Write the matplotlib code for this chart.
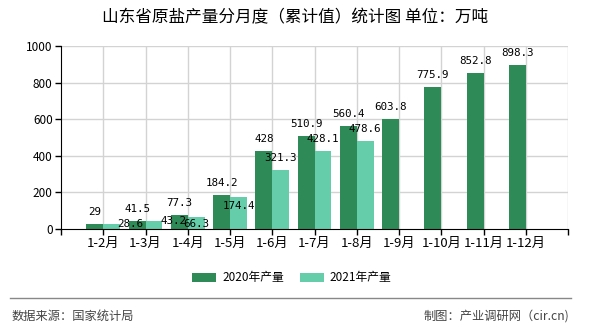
import matplotlib
matplotlib.use("Agg")
import matplotlib.pyplot as plt
from matplotlib.patches import Patch
from matplotlib.lines import Line2D
import numpy as np

plt.rcParams['font.family'] = ['Noto Sans CJK SC', 'DejaVu Sans']

categories = ["1-2月", "1-3月", "1-4月", "1-5月", "1-6月", "1-7月", "1-8月",
              "1-9月", "1-10月", "1-11月", "1-12月"]
values_2020 = [29, 41.5, 77.3, 184.2, 428, 510.9, 560.4, 603.8, 775.9, 852.8, 898.3]
values_2021 = [28.6, 43.2, 66.3, 174.4, 321.3, 428.1, 478.6]
labels_2020 = ["29", "41.5", "77.3", "184.2", "428", "510.9", "560.4", "603.8",
               "775.9", "852.8", "898.3"]
labels_2021 = ["28.6", "43.2", "66.3", "174.4", "321.3", "428.1", "478.6"]
series_names = ["2020年产量", "2021年产量"]
yticks = [0, 200, 400, 600, 800, 1000]

# label placement offsets (pixels) for 2021 labels, mimicking overlap avoidance
off_2021 = [(18, 0), (20, 0), (0, -7), (0, -9), (0, 12), (0, 12), (0, 12)]

c_dark = "#2E8B57"
c_light = "#66CDAA"

fig = plt.figure(figsize=(5.9, 3.3), dpi=100)
ax = fig.add_axes([61/590, 1-229/330, (568-61)/590, (229-46)/330])

x = np.arange(len(categories))
w = 0.4
x21 = np.arange(len(values_2021))
ax.bar(x - w/2, values_2020, width=w, color=c_dark, zorder=3)
ax.bar(x21 + w/2, values_2021, width=w, color=c_light, zorder=3)

for xi, v, s in zip(x, values_2020, labels_2020):
    ax.annotate(s, (xi - w/2, v), xytext=(0, 12), textcoords='offset pixels',
                ha='center', va='center', fontsize=7.8, family='DejaVu Sans Mono',
                color='black', zorder=5)
for xi, v, s, (dx, dy) in zip(x21, values_2021, labels_2021, off_2021):
    ax.annotate(s, (xi + w/2, v), xytext=(dx, dy), textcoords='offset pixels',
                ha='center', va='center', fontsize=7.8, family='DejaVu Sans Mono',
                color='black', zorder=5)

ax.set_xlim(-1, len(categories))
ax.set_ylim(0, 1000)
ax.set_yticks(yticks)
ax.set_yticklabels([str(t) for t in yticks], fontsize=8.5)
tick_pos = [-1] + list(x) + [len(categories)]
ax.set_xticks(tick_pos)
ax.set_xticklabels([""] + categories + [""], fontsize=9.5)

# grid
for yt in yticks[1:]:
    ax.axhline(yt, color="#d3d3d3", lw=1, zorder=1)
for xt in list(x) + [len(categories)]:
    ax.axvline(xt, color="#d3d3d3", lw=1, zorder=1)

for sp in ['top', 'right']:
    ax.spines[sp].set_visible(False)
ax.spines['left'].set_color('black')
ax.spines['bottom'].set_color('black')
ax.spines['bottom'].set_zorder(4)
ax.tick_params(axis='both', length=4, width=1, color='black', pad=2)

fig.text(295/590, 1-18/330, "山东省原盐产量分月度（累计值）统计图 单位：万吨",
         ha='center', va='center', fontsize=12, color='black')

handles = [Patch(facecolor=c_dark), Patch(facecolor=c_light)]
fig.legend(handles, series_names, loc='center', bbox_to_anchor=(292/590, 1-278/330),
           ncol=2, frameon=False, fontsize=8.5, handlelength=2.0, handleheight=0.8,
           handletextpad=0.5, columnspacing=1.4)

fig.add_artist(Line2D([10/590, 571/590], [1-298/330, 1-298/330],
                      transform=fig.transFigure, color="#888888", lw=1))
fig.text(12/590, 1-316/330, "数据来源：国家统计局", ha='left', va='center',
         fontsize=8.8, color="#444444")
fig.text(569/590, 1-316/330, "制图：产业调研网（cir.cn)", ha='right', va='center',
         fontsize=8.8, color="#444444")

fig.savefig("out.png", dpi=100)
